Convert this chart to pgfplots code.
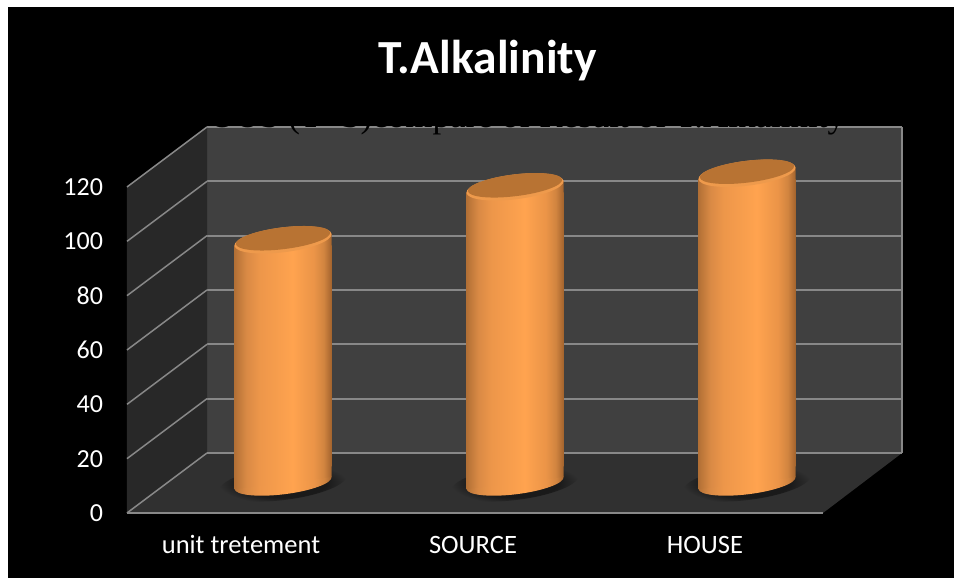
\documentclass[border=0pt]{standalone}
\usepackage{fontspec}
\setmainfont{Carlito}
\newfontfamily\serifghost{Liberation Serif}
\usepackage{pgfplots}
\usepackage{pgfplotstable}
\pgfplotsset{compat=1.18}

\definecolor{wallback}{HTML}{404040}
\definecolor{wallside}{HTML}{282828}
\definecolor{wallfloor}{HTML}{303030}
\definecolor{gridgray}{HTML}{888888}
\definecolor{capdark}{HTML}{B87333}
\definecolor{caprim}{HTML}{EE9A4C}

% Horizontal shading that gives the cylinder its round look
\pgfdeclarehorizontalshading{cylbody}{100bp}{
  rgb(0bp)=(0.70,0.44,0.21);
  rgb(25bp)=(0.70,0.44,0.21);
  rgb(31bp)=(0.85,0.54,0.27);
  rgb(38bp)=(0.93,0.59,0.29);
  rgb(55bp)=(1.00,0.64,0.31);
  rgb(66bp)=(0.92,0.58,0.28);
  rgb(71bp)=(0.82,0.52,0.25);
  rgb(75bp)=(0.64,0.39,0.18);
  rgb(100bp)=(0.64,0.39,0.18)}
\pgfdeclareradialshading{cylshadow}{\pgfpoint{0bp}{0bp}}{
  color(0bp)=(black!45!wallfloor);
  color(17bp)=(black!45!wallfloor);
  color(25bp)=(wallfloor);
  color(50bp)=(wallfloor)}

% Foot of a cylinder: soft shadow on the floor
\pgfdeclareplotmark{cyl shadow}{
  \shade[draw=none,shading=cylshadow] (0pt,0pt) ellipse[x radius=64pt,y radius=17pt,rotate=7];
}
% Foot of a cylinder: lower rim and the start of the body
\pgfdeclareplotmark{cyl foot}{
  \shade[draw=none,shading=cylbody] (0pt,0pt) ellipse[x radius=48.9pt,y radius=11.3pt,rotate=7];
  \shade[draw=none,shading=cylbody] (-48.5pt,-6pt) -- (48.5pt,6pt) -- (48.5pt,30pt) -- (-48.5pt,30pt) -- cycle;
}
% Head of a cylinder: top face with a light rim
\pgfdeclareplotmark{cyl head}{
  \shade[draw=none,shading=cylbody] (-48.5pt,-6pt) -- (48.5pt,6pt) -- (48.5pt,-14pt) -- (-48.5pt,-14pt) -- cycle;
  \fill[draw=none,caprim] (0pt,0pt) ellipse[x radius=48.9pt,y radius=12.4pt,rotate=7];
  \fill[draw=none,capdark] (0pt,1.6pt) ellipse[x radius=47.5pt,y radius=10.9pt,rotate=7];
}

\pgfplotstableread{
idx v
0   89.5
1   109
2   114
}\alkalinity

\begin{document}
\begin{tikzpicture}[x=1pt,y=1pt]
  \path[use as bounding box,fill=white] (0,0) rectangle (954,578);
  \fill[black] (8,0) rectangle (954,571);

  % Title
  \node[anchor=base,text=white,font=\fontsize{47.5}{50}\selectfont\bfseries] at (487.5,504) {T.Alkalinity};

  % Back wall with its grid
  \begin{axis}[
    at={(207pt,125pt)},anchor=south west,
    scale only axis,width=695pt,height=326pt,
    xmin=0,xmax=1,ymin=0,ymax=120,
    axis background/.style={fill=wallback},
    axis line style={draw=none},
    ytick={0,20,...,120},xtick=\empty,yticklabels={},
    tick style={draw=none},
    ymajorgrids,
    major grid style={draw=gridgray,line width=2pt},
    clip=false]
    \addplot[draw=gridgray,line width=2pt] coordinates {(1,0)(1,120)};
  \end{axis}

  % Heading set in black above the wall; only its lower edge shows on the wall
  \node[anchor=base west,text=black,font=\serifghost\fontsize{35}{38}\selectfont,inner sep=0pt]
    at (190,450) {SOUS (T+S)compare of Result of T.Alkalinity};

  % Side wall, floor and the value and category axes in the front plane
  \begin{axis}[
    at={(127pt,65pt)},anchor=south west,
    scale only axis,width=696pt,height=326pt,
    xmin=-0.5,xmax=2.5,ymin=0,ymax=120,
    axis line style={draw=none},
    tick style={draw=none},
    ytick={0,20,...,120},
    xtick={0,1,2},
    xticklabels={unit tretement,SOURCE,HOUSE},
    /pgf/number format/assume math mode=true,
    tick label style={text=white},
    yticklabel style={anchor=east,xshift=-20.5pt,font=\fontsize{26}{28}\selectfont},
    xticklabel style={anchor=base,yshift=-41pt,xshift=-2pt,font=\fontsize{26.5}{28}\selectfont},
    clip=false]
    \addplot[fill=wallside,draw=none] coordinates {(-0.5,0)(-0.5,120)(-0.155,142.1)(-0.155,22.1)} -- cycle;
    \addplot[fill=wallfloor,draw=none] coordinates {(-0.5,0)(-0.155,22.1)(2.841,22.1)(2.5,0)} -- cycle;
    \addplot[draw=gridgray,line width=1.5pt] coordinates {(-0.5,0)(-0.155,22.1)};
    \addplot[draw=gridgray,line width=1.5pt] coordinates {(-0.5,20)(-0.155,42.1)};
    \addplot[draw=gridgray,line width=1.5pt] coordinates {(-0.5,40)(-0.155,62.1)};
    \addplot[draw=gridgray,line width=1.5pt] coordinates {(-0.5,60)(-0.155,82.1)};
    \addplot[draw=gridgray,line width=1.5pt] coordinates {(-0.5,80)(-0.155,102.1)};
    \addplot[draw=gridgray,line width=1.5pt] coordinates {(-0.5,100)(-0.155,122.1)};
    \addplot[draw=gridgray,line width=1.5pt] coordinates {(-0.5,120)(-0.155,142.1)};
    \addplot[draw=gridgray,line width=2pt] coordinates {(-0.5,0)(2.5,0)};
    \addplot[draw=gridgray,line width=2pt] coordinates {(-0.155,22.1)(2.841,22.1)};
  \end{axis}

  % Cylinders stand half way between the front plane and the back wall
  \begin{axis}[
    at={(167pt,95pt)},anchor=south west,
    scale only axis,width=696pt,height=326pt,
    xmin=-0.5,xmax=2.5,ymin=0,ymax=120,
    axis lines=none,clip=false]
    \addplot[only marks,mark=cyl shadow] table[x=idx,y expr=0] {\alkalinity};
    \addplot[only marks,mark=cyl foot] table[x=idx,y expr=0] {\alkalinity};
    \addplot[ybar,ybar=0pt,bar width=97pt,bar shift=0pt,draw=none,shading=cylbody,yshift=6pt]
      coordinates {(0,85.08)};
    \addplot[ybar,ybar=0pt,bar width=97pt,bar shift=0pt,draw=none,shading=cylbody,yshift=6pt]
      coordinates {(1,104.58)};
    \addplot[ybar,ybar=0pt,bar width=97pt,bar shift=0pt,draw=none,shading=cylbody,yshift=6pt]
      coordinates {(2,109.58)};
    \addplot[only marks,mark=cyl head] table[x=idx,y=v] {\alkalinity};
  \end{axis}
\end{tikzpicture}
\end{document}
